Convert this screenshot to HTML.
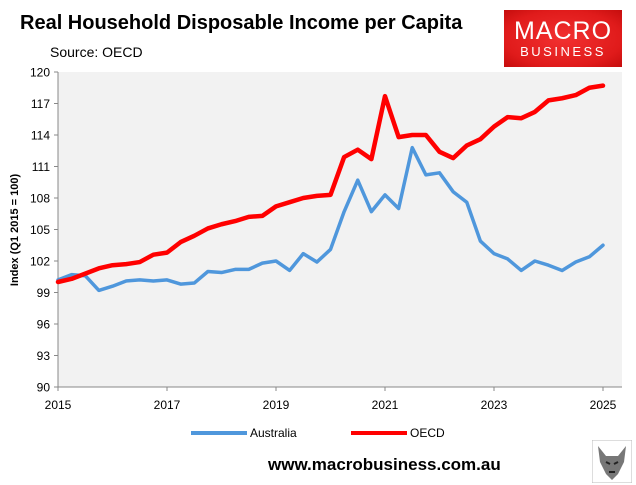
<!DOCTYPE html>
<html><head><meta charset="utf-8"><style>
body{margin:0;width:636px;height:485px;background:#fff;font-family:"Liberation Sans",sans-serif;position:relative;overflow:hidden}
.abs{position:absolute}
</style></head><body>
<div class="abs" style="left:20px;top:12px;font-size:20px;font-weight:bold;color:#000">Real Household Disposable Income per Capita</div>
<div class="abs" style="left:50px;top:44px;font-size:14px;color:#000">Source: OECD</div>
<div class="abs" style="left:504px;top:10px;width:118px;height:57px;background:radial-gradient(ellipse at center,#f23030 0%,#e01b1b 70%,#c50d0d 100%);color:#fff;text-align:center">
<div style="font-size:25px;margin-top:9px;line-height:25px;letter-spacing:1px">MACRO</div>
<div style="font-size:13px;letter-spacing:2.5px;line-height:16px">BUSINESS</div></div>
<svg class="abs" style="left:0;top:0" width="636" height="485" id="chart"></svg>
<div class="abs" style="left:268px;top:455px;font-size:17px;font-weight:bold;color:#000">www.macrobusiness.com.au</div>
<svg class="abs" style="left:592px;top:440px" width="40" height="43">
<rect x="0" y="0" width="40" height="43" fill="#fff" stroke="#bbb"/>
<path d="M6 6 L14 16 L26 16 L34 6 L32 22 L26 34 L20 40 L14 34 L8 22 Z" fill="#777"/>
<path d="M14 22 L18 24 M26 22 L22 24 M17 32 L23 32" stroke="#222" stroke-width="2"/>
</svg>
<script>
const years=[2015,2017,2019,2021,2023,2025];
const yTicks=[90,93,96,99,102,105,108,111,114,117,120];
const australia=[100.2,100.7,100.6,99.2,99.6,100.1,100.2,100.1,100.2,99.8,99.9,101.0,100.9,101.2,101.2,101.8,102.0,101.1,102.7,101.9,103.1,106.7,109.7,106.7,108.3,107.0,112.8,110.2,110.4,108.6,107.6,103.9,102.7,102.2,101.1,102.0,101.6,101.1,101.9,102.4,103.5];
const oecd=[100.0,100.3,100.8,101.3,101.6,101.7,101.9,102.6,102.8,103.8,104.4,105.1,105.5,105.8,106.2,106.3,107.2,107.6,108.0,108.2,108.3,111.9,112.6,111.7,117.7,113.8,114.0,114.0,112.4,111.8,113.0,113.6,114.8,115.7,115.6,116.2,117.3,117.5,117.8,118.5,118.7];
const svg=document.getElementById('chart');const NS='http://www.w3.org/2000/svg';
const X0=58,X1=603,Y0=387,Y1=72;
const xs=t=>X0+(t-2015)/10*(X1-X0);
const ys=v=>Y0-(v-90)/30*(Y0-Y1);
function mk(tag,attrs,parent){const e=document.createElementNS(NS,tag);for(const k in attrs)e.setAttribute(k,attrs[k]);(parent||svg).appendChild(e);return e;}
const bg=mk('rect',{x:X0,y:Y1,width:622-X0,height:Y0-Y1,fill:'#f2f2f2'});


mk('line',{x1:X0,y1:Y1,x2:X0,y2:Y0,stroke:'#888','stroke-width':1});
mk('line',{x1:X0,y1:Y0,x2:622,y2:Y0,stroke:'#888','stroke-width':1});
yTicks.forEach(v=>{
 mk('line',{x1:X0-4,y1:ys(v),x2:X0,y2:ys(v),stroke:'#888'});
 const t=mk('text',{x:X0-8,y:ys(v)+4.5,'text-anchor':'end','font-size':12,fill:'#000','font-family':'Liberation Sans'});t.textContent=v;
 
 
});
years.forEach(y=>{
 mk('line',{x1:xs(y),y1:Y0,x2:xs(y),y2:Y0+4,stroke:'#888'});
 const t=mk('text',{x:xs(y),y:Y0+22,'text-anchor':'middle','font-size':12,fill:'#000','font-family':'Liberation Sans'});t.textContent=y;
 
 
});
const yt=mk('text',{x:0,y:0,transform:'translate(18,230) rotate(-90)','text-anchor':'middle','font-size':11,'font-weight':'bold',fill:'#000','font-family':'Liberation Sans'});
yt.textContent='Index (Q1 2015 = 100)';


function line(data,color,name){
 const p=mk('polyline',{points:data.map((v,i)=>xs(2015+i*0.25)+','+ys(v)).join(' '),fill:'none',stroke:color,'stroke-width':color==='#ff0000'?4.5:3.5,'stroke-linejoin':'round','stroke-linecap':'round'});
 
 
}
line(australia,'#4f97dc','australia-line');
line(oecd,'#ff0000','oecd-line');
function legend(x,color,label,name){
 const g=mk('g',{});
 
 
 mk('line',{x1:x,y1:433,x2:x+56,y2:433,stroke:color,'stroke-width':4},g);
 const t=mk('text',{x:x+59,y:437,'font-size':12,fill:'#000','font-family':'Liberation Sans'},g);t.textContent=label;
}
legend(191,'#4f97dc','Australia','legend-australia');
legend(351,'#ff0000','OECD','legend-oecd');
</script>
</body></html>
